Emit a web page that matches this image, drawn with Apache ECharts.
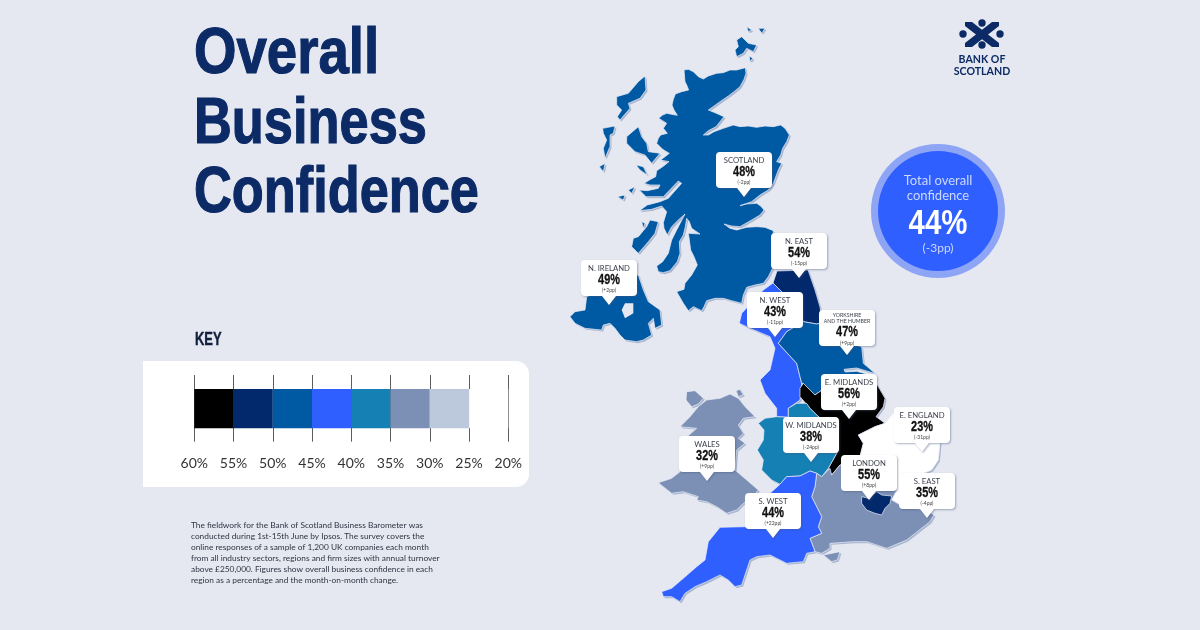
<!DOCTYPE html>
<html>
<head>
<meta charset="utf-8">
<title>Overall Business Confidence</title>
<script src="https://cdn.jsdelivr.net/npm/echarts@6/dist/echarts.min.js"></script>
<style>
html, body { margin: 0; padding: 0; background: #e5e8f1; }
#main { width: 1200px; height: 630px; }
</style>
</head>
<body>
<div id="main"></div>
<script>
// region data
var regionNames = ['Scotland', 'N. East', 'N. Ireland', 'N. West', 'Yorkshire', 'E. Midlands', 'E. England', 'W. Midlands', 'Wales', 'London', 'S. East', 'S. West'];
var calloutTitles = ['SCOTLAND', 'N. EAST', 'N. IRELAND', 'N. WEST', 'YORKSHIRE\nAND THE HUMBER', 'E. MIDLANDS', 'E. ENGLAND', 'W. MIDLANDS', 'WALES', 'LONDON', 'S. EAST', 'S. WEST'];
var confidence = [48, 54, 49, 43, 47, 56, 23, 38, 32, 55, 35, 44];
var changes = ['(-2pp)', '(-15pp)', '(+2pp)', '(-11pp)', '(+9pp)', '(+2pp)', '(-31pp)', '(-24pp)', '(+9pp)', '(+8pp)', '(-4pp)', '(+22pp)'];
// where each callout pointer lands on the map
var calloutTips = [[744, 197], [799, 278], [609, 305], [775, 337], [847, 355], [849, 419], [922, 452], [811, 462], [707, 481], [869, 500], [927, 518], [773, 538]];

var totalValue = 44;
var totalChange = '(-3pp)';

// key bands, high to low
var keyEdges = [60, 55, 50, 45, 40, 35, 30, 25, 20];
var keyColours = ['#000000', '#02296c', '#0059a3', '#2f5fff', '#1580b4', '#7c8fb5', '#bcc8db', '#ffffff'];

var titleLines = ['Overall', 'Business', 'Confidence'];
var noteLines = [
    'The fieldwork for the Bank of Scotland Business Barometer was',
    'conducted during 1st-15th June by Ipsos. The survey covers the',
    'online responses of a sample of 1,200 UK companies each month',
    'from all industry sectors, regions and firm sizes with annual turnover',
    'above £250,000. Figures show overall business confidence in each',
    'region as a percentage and the month-on-month change.'
];

var northOrigin = [560, 20];
var southOrigin = [640, 300];
var irelandOrigin = [560, 260];

var scotlandMain = [[372,150],[385,148],[400,155],[415,170],[430,177],[445,168],[470,160],[490,158],[510,150],[530,150],[556,143],[558,160],[552,178],[540,200],[522,215],[505,228],[480,245],[462,258],[445,270],[465,278],[492,290],[480,305],[468,320],[445,332],[430,345],[445,345],[462,335],[490,325],[520,315],[540,320],[565,318],[590,322],[615,318],[640,320],[662,315],[675,325],[688,345],[680,365],[668,385],[662,405],[650,425],[665,430],[655,450],[640,490],[625,510],[600,525],[575,545],[540,557],[560,552],[590,550],[602,558],[612,570],[600,585],[575,600],[540,620],[515,618],[492,612],[510,625],[530,630],[560,622],[590,620],[615,622],[640,632],[640,740],[625,770],[610,790],[585,795],[560,802],[550,825],[545,850],[515,842],[490,835],[465,835],[440,842],[432,860],[425,872],[400,860],[385,872],[370,850],[350,815],[372,808],[375,790],[395,765],[412,735],[402,710],[392,690],[388,660],[385,640],[420,642],[395,625],[388,605],[380,595],[376,620],[370,645],[358,665],[360,700],[352,725],[330,752],[310,758],[295,755],[290,738],[308,725],[325,700],[330,680],[335,660],[350,630],[375,582],[355,600],[335,620],[322,645],[312,625],[310,608],[320,575],[305,558],[275,568],[238,572],[262,555],[300,545],[325,535],[365,490],[355,483],[310,530],[285,530],[258,530],[238,510],[262,512],[295,505],[300,495],[270,495],[252,490],[272,478],[287,470],[290,452],[308,440],[327,425],[302,420],[315,410],[328,400],[308,388],[290,370],[295,355],[302,345],[322,340],[310,325],[320,310],[308,302],[296,295],[308,285],[320,280],[335,283],[352,286],[342,270],[336,255],[340,238],[346,222],[365,215],[386,210],[380,195],[375,185]];
var scotlandIslands = [
    [[530,60],[545,50],[565,70],[590,75],[580,95],[560,85],[550,100],[530,110],[525,90],[535,80]],
    [[560,20],[575,30],[565,35]],
    [[595,25],[615,25],[605,40]],
    [[568,108],[578,115],[570,125]],
    [[170,230],[205,220],[235,185],[255,168],[258,210],[240,235],[205,250],[210,265],[180,300],[172,290],[185,270],[170,255]],
    [[128,325],[165,318],[160,340],[150,345],[150,380],[135,415],[130,385],[140,360],[130,340]],
    [[118,440],[135,430],[130,455]],
    [[200,350],[235,320],[245,350],[260,370],[265,395],[300,400],[275,430],[255,405],[225,395],[200,370]],
    [[228,435],[250,440],[262,465],[240,450]],
    [[172,530],[195,525],[190,540]],
    [[205,510],[225,500],[215,520]],
    [[220,655],[235,650],[260,620],[270,600],[295,605],[285,640],[265,665],[235,700],[215,680]],
    [[245,605],[255,610],[250,625]]
];
var irelandLine = [[30,170],[45,155],[75,150],[80,110],[230,45],[235,45],[250,90],[265,125],[300,150],[305,195],[285,205],[280,175],[265,190],[275,225],[250,240],[230,245],[195,240],[180,225],[165,205],[150,190],[130,195],[125,210],[75,205],[45,190]];
var irelandLough = [[195,130],[220,130],[220,160],[195,175],[185,150]];
var northEastLine = [[399,-51],[411,-87],[504,-90],[525,-30],[540,21],[545,60],[540,70],[530,72],[490,65],[450,0]];
var northWestLine = [[399,-51],[450,0],[490,65],[440,95],[415,130],[470,190],[485,250],[480,300],[445,325],[445,352],[410,350],[410,325],[375,280],[360,240],[390,210],[405,145],[390,110],[330,85],[298,70],[305,40],[370,-30]];
var yorkshireLine = [[415,130],[440,95],[490,65],[530,72],[540,70],[600,120],[665,140],[670,190],[705,220],[690,216],[650,204],[612,208],[615,216],[650,214],[680,222],[690,228],[560,260],[525,285],[490,250],[485,250],[470,190]];
var eastMidlandsLine = [[480,265],[490,250],[525,285],[560,260],[690,228],[712,255],[735,295],[730,320],[708,350],[735,370],[705,380],[675,395],[655,405],[670,430],[660,470],[625,490],[600,495],[575,525],[565,505],[590,460],[595,400],[530,345],[510,325],[480,290]];
var westMidlandsLine = [[510,325],[530,345],[595,400],[590,460],[565,505],[545,530],[530,520],[510,513],[480,528],[440,530],[420,553],[395,540],[365,510],[370,480],[352,450],[370,420],[372,390],[355,370],[375,355],[410,350],[445,352],[445,325],[470,310],[500,310]];
var eastEnglandLine = [[735,370],[760,340],[810,340],[880,370],[900,430],[895,480],[875,510],[850,520],[820,560],[790,620],[755,600],[770,570],[690,500],[660,470],[670,430],[655,405],[675,395],[705,380]];
var southEastLine = [[570,505],[545,530],[530,520],[525,560],[515,590],[530,620],[545,650],[535,680],[545,700],[510,715],[525,755],[545,760],[570,745],[570,730],[640,725],[680,725],[740,745],[800,720],[870,665],[882,645],[860,630],[790,620],[755,600],[770,570],[690,500],[600,495],[575,525]];
var wightLine = [[550,765],[600,755],[592,780],[575,785]];
var londonLine = [[665,590],[685,595],[710,575],[725,585],[755,588],[750,610],[735,625],[725,645],[705,640],[680,630],[665,610]];
var southWestLine = [[420,553],[440,530],[480,528],[510,513],[530,520],[525,560],[515,590],[530,620],[545,650],[535,680],[545,700],[510,715],[525,755],[500,760],[490,785],[440,790],[390,765],[350,770],[330,780],[320,810],[305,855],[285,860],[265,840],[240,825],[200,845],[165,860],[135,880],[120,905],[95,890],[70,890],[65,875],[95,865],[130,835],[170,800],[195,780],[205,725],[240,682],[320,680],[360,660],[380,600],[392,578]];
var walesMain = [[175,320],[200,300],[240,295],[270,282],[295,295],[315,320],[345,350],[310,355],[295,375],[310,400],[295,415],[315,430],[290,450],[285,510],[320,540],[355,570],[340,590],[310,610],[290,630],[260,640],[230,620],[200,605],[170,600],[175,590],[130,575],[95,580],[55,548],[95,535],[120,515],[130,480],[130,420],[170,385],[120,380],[150,350]];
var angleseyLine = [[140,275],[165,272],[190,295],[175,312],[155,320],[138,300]];
var walesIslet = [[288,272],[300,268],[310,285],[295,290]];

function ring(origin, pts) {
    var out = pts.map(function(p) {
        return [origin[0] + p[0] / 3, -(origin[1] + p[1] / 3)];
    });
    out.push(out[0]);
    return out;
}

function feature(name, polygons) {
    return {
        type: 'Feature',
        properties: { name: name },
        geometry: { type: 'MultiPolygon', coordinates: polygons }
    };
}

var scotlandPolys = [[ring(northOrigin, scotlandMain)]];
scotlandIslands.forEach(function(isle) {
    scotlandPolys.push([ring(northOrigin, isle)]);
});

var ukMap = {
    type: 'FeatureCollection',
    features: [
        feature('Scotland', scotlandPolys),
        feature('N. Ireland', [[ring(irelandOrigin, irelandLine)]]),
        feature('Lough Neagh', [[ring(irelandOrigin, irelandLough)]]),
        feature('N. East', [[ring(southOrigin, northEastLine)]]),
        feature('N. West', [[ring(southOrigin, northWestLine)]]),
        feature('Yorkshire', [[ring(southOrigin, yorkshireLine)]]),
        feature('E. Midlands', [[ring(southOrigin, eastMidlandsLine)]]),
        feature('W. Midlands', [[ring(southOrigin, westMidlandsLine)]]),
        feature('E. England', [[ring(southOrigin, eastEnglandLine)]]),
        feature('S. East', [[ring(southOrigin, southEastLine)], [ring(southOrigin, wightLine)]]),
        feature('S. West', [[ring(southOrigin, southWestLine)]]),
        feature('London', [[ring(southOrigin, londonLine)]]),
        feature('Wales', [[ring(southOrigin, walesMain)], [ring(southOrigin, angleseyLine)], [ring(southOrigin, walesIslet)]])
    ]
};
echarts.registerMap('uk', ukMap);

var HEAVY = '"Liberation Sans", sans-serif';
var BODY = 'Lato, "Noto Sans", sans-serif';
var NAVY = '#0b2a66';
var PAGE = '#e5e8f1';

function renderCallout(params, api) {
    var i = params.dataIndex;
    var tip = api.coord([api.value(0), api.value(1)]);
    var twoLines = calloutTitles[i].indexOf('\n') >= 0;
    // box 56x36, pointer 9 below, path runs in local coords
    var box = 'M4 0H52Q56 0 56 4V32Q56 36 52 36H35L28 45L21 36H4Q0 36 0 32V4Q0 0 4 0Z';
    return {
        type: 'group',
        x: tip[0],
        y: tip[1],
        children: [{
            type: 'path',
            shape: { pathData: box, x: -28, y: -45, width: 56, height: 45 },
            style: { fill: '#ffffff', shadowColor: 'rgba(70,85,120,0.45)', shadowBlur: 2, shadowOffsetX: 1, shadowOffsetY: 1 }
        }, {
            type: 'text',
            x: 0,
            y: twoLines ? -37 : -36,
            style: {
                text: calloutTitles[i], align: 'center', verticalAlign: 'middle',
                fill: '#3a3f4a', fontFamily: BODY, fontSize: twoLines ? 5.2 : 7.7, lineHeight: twoLines ? 6 : 10
            }
        }, {
            type: 'text',
            x: 0,
            y: twoLines ? -23 : -24.5,
            scaleX: 0.78,
            style: {
                text: confidence[i] + '%', align: 'center', verticalAlign: 'middle',
                fill: '#111111', fontFamily: HEAVY, fontWeight: 'bold', fontSize: 14,
                stroke: '#111111', lineWidth: 0.3
            }
        }, {
            type: 'text',
            x: 0,
            y: twoLines ? -12 : -15,
            style: {
                text: changes[i], align: 'center', verticalAlign: 'middle',
                fill: '#444444', fontFamily: BODY, fontSize: 5
            }
        }]
    };
}

function renderBand(params, api) {
    var a = api.coord([api.value(0), 0.79]);
    var b = api.coord([api.value(1), 0.2]);
    return {
        type: 'rect',
        shape: { x: a[0], y: a[1], width: b[0] - a[0], height: b[1] - a[1] },
        style: { fill: keyColours[params.dataIndex] }
    };
}

var pieces = keyColours.map(function(c, i) {
    return { gt: keyEdges[i + 1], lte: keyEdges[i], color: c };
});

var titleSqueeze = [0.84, 0.806, 0.805];

var graphics = [
    // key panel
    { type: 'rect', z: -1, shape: { x: 143, y: 361, width: 386, height: 126, r: [0, 13, 13, 0] }, style: { fill: '#ffffff' } },
    { type: 'text', x: 195, y: 340.5, scaleX: 0.72, style: { text: 'KEY', verticalAlign: 'middle', fill: '#111f3d', fontFamily: HEAVY, fontWeight: 'bold', fontSize: 18, stroke: '#111f3d', lineWidth: 0.4 } },
    // total bubble
    { type: 'circle', shape: { cx: 938, cy: 211, r: 67 }, style: { fill: '#8ea5f6' } },
    { type: 'circle', shape: { cx: 938, cy: 211, r: 60 }, style: { fill: '#2f5fff' } },
    { type: 'text', style: { text: 'Total overall', x: 938, y: 181, align: 'center', verticalAlign: 'middle', fill: '#cdd8ff', fontFamily: BODY, fontSize: 13 } },
    { type: 'text', style: { text: 'confidence', x: 938, y: 196, align: 'center', verticalAlign: 'middle', fill: '#cdd8ff', fontFamily: BODY, fontSize: 13 } },
    { type: 'text', x: 938, y: 224, scaleX: 0.84, style: { text: totalValue + '%', align: 'center', verticalAlign: 'middle', fill: '#ffffff', fontFamily: HEAVY, fontWeight: 'bold', fontSize: 35 } },
    { type: 'text', style: { text: totalChange, x: 938, y: 248, align: 'center', verticalAlign: 'middle', fill: '#cdd8ff', fontFamily: BODY, fontSize: 12 } },
    // logo
    { type: 'polygon', shape: { points: [[965, 22], [972, 22], [999, 43], [999, 47], [992, 47], [965, 26]] }, style: { fill: NAVY } },
    { type: 'polygon', shape: { points: [[999, 22], [992, 22], [965, 43], [965, 47], [972, 47], [999, 26]] }, style: { fill: NAVY } },
    { type: 'circle', shape: { cx: 982, cy: 23, r: 3.7 }, style: { fill: NAVY } },
    { type: 'circle', shape: { cx: 963, cy: 34, r: 3.7 }, style: { fill: NAVY } },
    { type: 'circle', shape: { cx: 1000, cy: 34, r: 3.7 }, style: { fill: NAVY } },
    { type: 'circle', shape: { cx: 982, cy: 45, r: 3.7 }, style: { fill: NAVY } },
    { type: 'text', style: { text: 'BANK OF', x: 982, y: 60, align: 'center', verticalAlign: 'middle', fill: NAVY, fontFamily: BODY, fontWeight: 'bold', fontSize: 10.6 } },
    { type: 'text', style: { text: 'SCOTLAND', x: 982, y: 72, align: 'center', verticalAlign: 'middle', fill: NAVY, fontFamily: BODY, fontWeight: 'bold', fontSize: 10.6 } }
];
titleLines.forEach(function(line, i) {
    graphics.push({
        type: 'text',
        x: 194,
        y: 55.5 + i * 69.5,
        scaleX: titleSqueeze[i],
        style: { text: line, verticalAlign: 'middle', fill: NAVY, fontFamily: HEAVY, fontWeight: 'bold', fontSize: 65, stroke: NAVY, lineWidth: 1.2 }
    });
});
noteLines.forEach(function(line, i) {
    graphics.push({
        type: 'text',
        style: { text: line, x: 191, y: 525.7 + i * 10.9, verticalAlign: 'middle', fill: '#2f3442', fontFamily: BODY, fontSize: 8.33 }
    });
});

var myChart = echarts.init(document.getElementById('main'));
var option = {
    backgroundColor: PAGE,
    animation: false,
    graphic: graphics,
    grid: { left: 194.3, top: 375, width: 314, height: 66.7 },
    xAxis: {
        type: 'value', min: 20, max: 60, interval: 5, inverse: true,
        axisLine: { show: false },
        axisTick: { show: false },
        axisLabel: { formatter: '{value}%', margin: 15, color: '#333333', fontFamily: BODY, fontSize: 14 },
        splitLine: { show: true, lineStyle: { color: '#333333', width: 0.8 } }
    },
    yAxis: { type: 'value', min: 0, max: 1, show: false },
    visualMap: { show: false, type: 'piecewise', seriesIndex: 0, pieces: pieces },
    geo: [{
        // offset copy makes the drop shadow
        map: 'uk', silent: true, aspectScale: 1, roam: false,
        boundingCoords: [[0, 0], [1200, -630]],
        left: 1.5, top: 1.5, right: -1.5, bottom: -1.5,
        itemStyle: { areaColor: '#a9b6d0', borderWidth: 0 },
        emphasis: { disabled: true }
    }, {
        map: 'uk', silent: true, aspectScale: 1, roam: false,
        boundingCoords: [[0, 0], [1200, -630]],
        left: 0, top: 0, right: 0, bottom: 0,
        itemStyle: { borderColor: '#e9edf6', borderWidth: 0.7 },
        regions: [{ name: 'Lough Neagh', itemStyle: { areaColor: PAGE, borderWidth: 0 } }],
        emphasis: { disabled: true }
    }],
    series: [{
        type: 'map',
        geoIndex: 1,
        data: regionNames.map(function(n, i) {
            return { name: n, value: confidence[i] };
        })
    }, {
        type: 'custom',
        coordinateSystem: 'geo',
        geoIndex: 1,
        z: 5,
        silent: true,
        data: calloutTips.map(function(t) {
            return [t[0], -t[1]];
        }),
        renderItem: renderCallout
    }, {
        type: 'custom',
        coordinateSystem: 'cartesian2d',
        silent: true,
        data: keyColours.map(function(c, i) {
            return [keyEdges[i], keyEdges[i + 1]];
        }),
        renderItem: renderBand
    }]
};
myChart.setOption(option);
</script>
</body>
</html>
